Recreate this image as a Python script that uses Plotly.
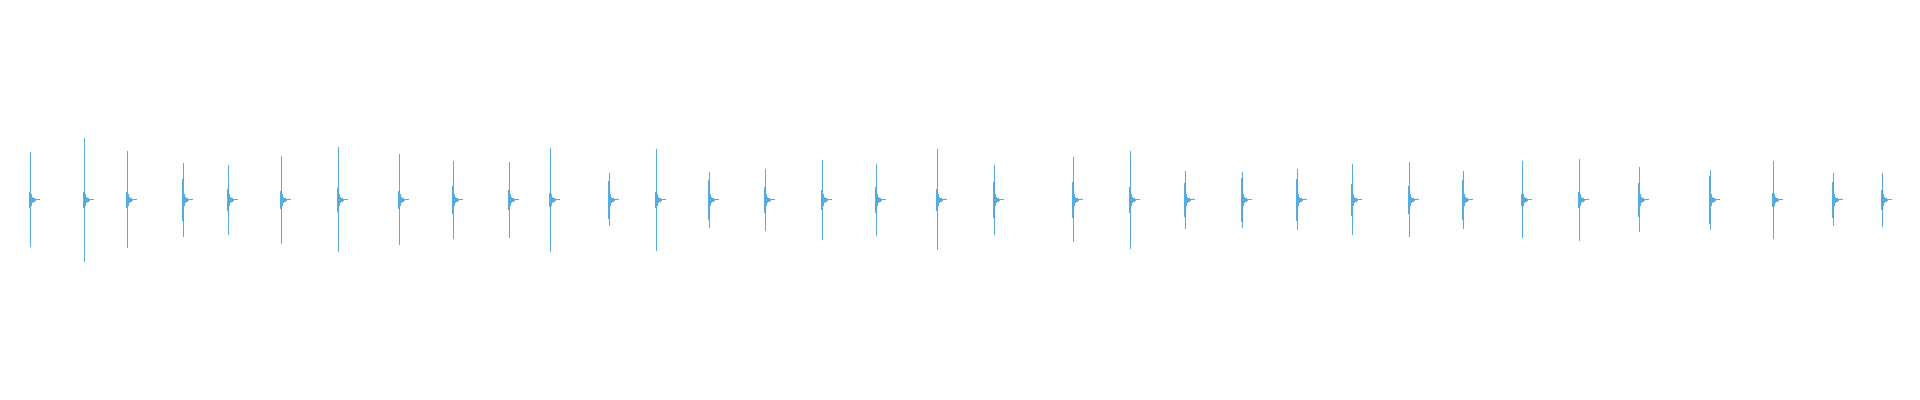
import plotly.graph_objects as go

# Waveform of repeated clicks; time in seconds, amplitude in [-1, 1]
duration = 30.0
px_per_s = 64.0

click_times = [0.473, 1.317, 1.989, 2.864, 3.567, 4.396, 5.286, 6.239, 7.083, 7.958,
               8.599, 9.520, 10.255, 11.083, 11.958, 12.849, 13.692, 14.646, 15.536, 16.770,
               17.661, 18.521, 19.411, 20.270, 21.130, 22.021, 22.864, 23.786, 24.677, 25.614,
               26.734, 27.708, 28.646, 29.411]

peak_pos = [0.238, 0.308, 0.243, 0.183, 0.173, 0.218, 0.263, 0.228, 0.193, 0.188,
            0.258, 0.133, 0.253, 0.138, 0.153, 0.198, 0.178, 0.253, 0.173, 0.213,
            0.243, 0.143, 0.138, 0.153, 0.178, 0.188, 0.143, 0.193, 0.203, 0.163,
            0.148, 0.193, 0.133, 0.133]

peak_neg = [-0.235, -0.310, -0.240, -0.185, -0.175, -0.220, -0.260, -0.225, -0.195, -0.190,
            -0.260, -0.130, -0.255, -0.140, -0.155, -0.200, -0.180, -0.250, -0.175, -0.210,
            -0.245, -0.145, -0.140, -0.150, -0.175, -0.185, -0.145, -0.190, -0.205, -0.160,
            -0.150, -0.195, -0.130, -0.135]

body_amp = [0.040, 0.040, 0.040, 0.103, 0.055, 0.045, 0.060, 0.043, 0.068, 0.050,
            0.035, 0.095, 0.040, 0.098, 0.065, 0.050, 0.065, 0.055, 0.090, 0.090,
            0.065, 0.085, 0.110, 0.105, 0.080, 0.070, 0.100, 0.030, 0.040, 0.085,
            0.120, 0.035, 0.090, 0.050]

# decaying ring after each click (half-range per sample column after the spike)
tail_amp = [0.030, 0.017, 0.010, 0.009, 0.006, 0.0, 0.0, 0.0, 0.0]
tail_floor = 0.005  # residual one-sample-high trace at zero

xs, bases, heights = [], [], []
dt = 1.0 / px_per_s
for t, hi, lo, body in zip(click_times, peak_pos, peak_neg, body_amp):
    c = int(t * px_per_s)
    xs.append((c - 1 + 0.5) * dt); bases.append(-body); heights.append(2 * body)
    xs.append((c + 0.5) * dt); bases.append(lo); heights.append(hi - lo)
    for k, a in enumerate(tail_amp):
        xs.append((c + 1 + k + 0.5) * dt)
        if a > 0:
            bases.append(-a); heights.append(2 * a)
        else:
            bases.append(0.0); heights.append(tail_floor)

fig = go.Figure(go.Bar(
    x=xs, y=heights, base=bases, width=dt,
    marker=dict(color="#56aae2", line=dict(width=0)),
    hoverinfo="skip",
))
fig.update_layout(
    width=1920, height=400,
    margin=dict(l=0, r=0, t=0, b=0),
    paper_bgcolor="white", plot_bgcolor="white",
    showlegend=False, bargap=0,
    xaxis=dict(type="linear", range=[0, duration], visible=False, fixedrange=True),
    yaxis=dict(type="linear", range=[-1, 1], visible=False, fixedrange=True),
)
fig.write_html(
    "out.html",
    config={"displayModeBar": False},
    post_script="document.body.style.margin='0';document.body.style.overflow='hidden';",
)
